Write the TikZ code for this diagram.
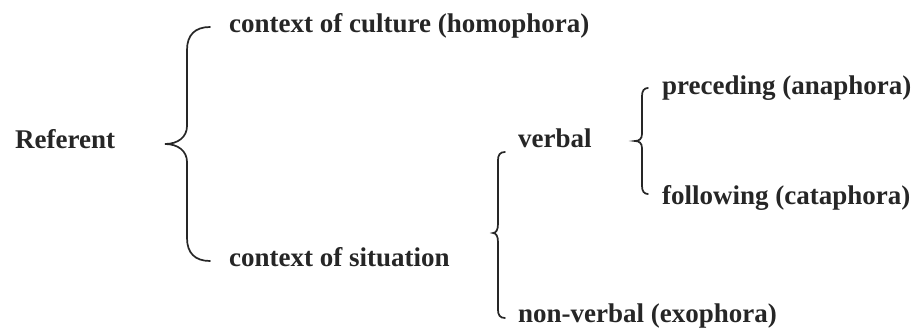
\documentclass[tikz,border=0pt]{standalone}
\usepackage{fontspec}
\setmainfont{Liberation Serif}
\definecolor{ink}{HTML}{262626}
\begin{document}
\begin{tikzpicture}[x=1pt,y=-1pt,
  lbl/.style={anchor=base west,inner sep=0pt,text=ink,font=\fontsize{27}{30}\selectfont\bfseries},
  brace/.style={draw=ink,line width=1.7pt,line cap=round}]
\useasboundingbox[fill=white] (0,0) rectangle (916,331);
% labels
\node[lbl] (ref) at (15,149) {Referent};
\node[lbl] (cult) at (229,33) {context of culture (homophora)};
\node[lbl] (sit) at (229,267) {context of situation};
\node[lbl] (verb) at (518,148) {verbal};
\node[lbl] (nonv) at (518,322) {non-verbal (exophora)};
\node[lbl] (prec) at (662,95) {preceding (anaphora)};
\node[lbl] (foll) at (662,205) {following (cataphora)};
% brace anchor points
\coordinate (b1tip) at (165,144);
\coordinate (b1top) at (210,27);
\coordinate (b1bot) at (210,261);
\coordinate (b2tip) at (493,233);
\coordinate (b2top) at (505,152);
\coordinate (b2bot) at (505,318);
\coordinate (b3tip) at (635,141);
\coordinate (b3top) at (648,88);
\coordinate (b3bot) at (648,194);
% brace 1: Referent
\draw[brace] (b1top) .. controls (195,27) and (187,35) .. (187,50)
  -- (187,126) .. controls (187,137) and (178,144) .. (b1tip)
  .. controls (178,144) and (187,151) .. (187,162)
  -- (187,238) .. controls (187,253) and (195,261) .. (b1bot);
% brace 2: context of situation
\draw[brace] (b2top) .. controls (500,152) and (498,155) .. (498,160)
  -- (498,224) .. controls (498,230) and (496,233) .. (b2tip)
  .. controls (496,233) and (498,236) .. (498,242)
  -- (498,310) .. controls (498,315) and (500,318) .. (b2bot);
% brace 3: verbal
\draw[brace] (b3top) .. controls (644,88) and (642,91) .. (642,96)
  -- (642,134) .. controls (642,139) and (639,141) .. (b3tip)
  .. controls (639,141) and (642,143) .. (642,148)
  -- (642,186) .. controls (642,191) and (644,194) .. (b3bot);
\end{tikzpicture}
\end{document}
